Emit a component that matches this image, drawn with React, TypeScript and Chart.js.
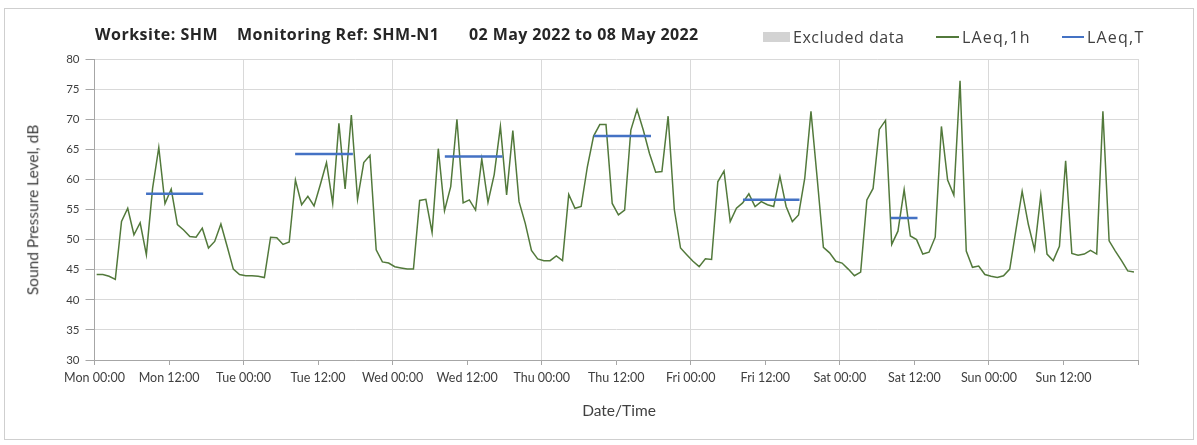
import React, { useEffect, useRef } from 'react';
import { Chart, registerables } from 'chart.js';
Chart.register(...registerables);

// Hourly LAeq,1h values, Mon 00:00 .. Sun 23:00
const laeq1h = [
  44.2, 44.2, 43.9, 43.4, 53.0, 55.2, 50.8, 52.8, 47.5, 58.5, 65.3, 56.0, 58.4, 52.5, 51.6, 50.5, 50.4, 51.9, 48.6, 49.7, 52.6, 48.9, 45.1, 44.2,
  44.0, 44.0, 43.9, 43.7, 50.4, 50.3, 49.2, 49.6, 59.9, 55.8, 57.2, 55.6, 59.1, 62.8, 56.0, 69.3, 58.4, 70.7, 56.7, 62.8, 64.0, 48.3, 46.3, 46.1,
  45.5, 45.3, 45.1, 45.1, 56.5, 56.7, 51.2, 65.1, 54.8, 58.8, 70.0, 56.1, 56.6, 54.9, 63.4, 56.2, 60.8, 68.8, 57.4, 68.1, 56.3, 52.7, 48.2, 46.8,
  46.5, 46.5, 47.3, 46.5, 57.5, 55.2, 55.5, 62.1, 67.2, 69.1, 69.1, 56.0, 54.1, 54.9, 68.2, 71.6, 68.2, 64.3, 61.2, 61.3, 70.5, 55.0, 48.6, 47.5,
  46.4, 45.5, 46.8, 46.7, 59.6, 61.4, 53.0, 55.2, 56.1, 57.6, 55.5, 56.3, 55.8, 55.5, 60.5, 55.5, 53.0, 54.1, 60.2, 71.3, 60.2, 48.7, 47.8, 46.4,
  46.1, 45.1, 44.0, 44.6, 56.6, 58.5, 68.3, 69.8, 49.2, 51.4, 58.3, 50.6, 50.0, 47.6, 47.9, 50.4, 68.8, 59.9, 57.4, 76.4, 48.1, 45.4, 45.6, 44.2,
  43.9, 43.7, 44.0, 45.1, 51.6, 58.0, 52.5, 48.3, 57.4, 47.6, 46.5, 48.9, 63.1, 47.7, 47.4, 47.6, 48.2, 47.6, 71.3, 49.8, 48.1, 46.5, 44.8, 44.6,
];

// LAeq,T periods (hours from Mon 00:00)
const periodStart = [8.3, 32.3, 56.4, 80.4, 104.4, 128.2];
const periodEnd = [17.5, 41.6, 65.7, 89.6, 113.5, 132.5];
const periodValue = [57.6, 64.2, 63.8, 67.2, 56.6, 53.6];

const xTickLabels = [
  'Mon 00:00', 'Mon 12:00', 'Tue 00:00', 'Tue 12:00', 'Wed 00:00', 'Wed 12:00', 'Thu 00:00',
  'Thu 12:00', 'Fri 00:00', 'Fri 12:00', 'Sat 00:00', 'Sat 12:00', 'Sun 00:00', 'Sun 12:00', '',
];

const FONT = 'Lato, "Open Sans", sans-serif';
const FONT2 = '"Open Sans", Lato, sans-serif';

function Txt(props: { x: number; y: number; size: number; bold?: boolean; center?: boolean; rotate?: boolean; color?: string; family?: string; spacing?: number; children: React.ReactNode }) {
  const { x, y, size, bold, center, rotate, color, family, spacing } = props;
  let transform = center ? 'translate(-50%,-50%)' : 'translateY(-50%)';
  if (rotate) transform = 'translate(-50%,-50%) rotate(-90deg)';
  return (
    <div
      style={{
        position: 'absolute', left: x, top: y, transform, fontFamily: family || FONT, fontSize: size,
        fontWeight: bold ? 700 : 400, color: color || '#404040', whiteSpace: 'nowrap', lineHeight: 1,
        letterSpacing: spacing || 0,
      }}
    >
      {props.children}
    </div>
  );
}

export default function App() {
  const ref = useRef<HTMLCanvasElement>(null);
  useEffect(() => {
    const canvas = ref.current;
    if (!canvas) return;
    const lineData = laeq1h.map((v, i) => ({ x: i + 0.35, y: v }));
    const periodData: { x: number; y: number | null }[] = [];
    periodStart.forEach((s, i) => {
      periodData.push({ x: s, y: periodValue[i] }, { x: periodEnd[i], y: periodValue[i] }, { x: periodEnd[i] + 0.01, y: null });
    });
    const chart = new Chart(canvas, {
      type: 'line',
      data: {
        datasets: [
          { label: 'LAeq,T', data: periodData as any, borderColor: '#4472c4', borderWidth: 2.5, pointRadius: 0, spanGaps: false, order: 0 },
          { label: 'LAeq,1h', data: lineData, borderColor: '#52793b', borderWidth: 1.5, pointRadius: 0, tension: 0, order: 1 },
        ],
      },
      options: {
        animation: false,
        responsive: false,
        layout: { padding: { top: 59, right: 59, left: 0, bottom: 0 } },
        plugins: { legend: { display: false }, tooltip: { enabled: false }, title: { display: false } },
        scales: {
          x: {
            type: 'linear',
            min: 0,
            max: 168,
            afterBuildTicks: (s: any) => {
              s.ticks = xTickLabels.map((_, i) => ({ value: i * 12 }));
            },
            afterFit: (s: any) => {
              s.height = 85;
            },
            ticks: {
              autoSkip: false,
              maxRotation: 0,
              padding: 5,
              color: '#404040',
              font: { family: FONT, size: 12.5 },
              callback: (_v: any, i: number) => xTickLabels[i],
            },
            grid: {
              color: (c: any) => (c.tick && c.tick.value % 24 === 0 ? '#d9d9d9' : 'rgba(0,0,0,0)'),
              tickColor: '#a6a6a6',
              tickLength: 5,
            },
            border: { color: '#a6a6a6' },
          },
          y: {
            min: 30,
            max: 80,
            afterFit: (s: any) => {
              s.width = 94.5;
            },
            ticks: { stepSize: 5, padding: 6, color: '#404040', font: { family: FONT, size: 11.5 } },
            grid: { color: '#d9d9d9', tickColor: '#a6a6a6', tickLength: 9 },
            border: { color: '#a6a6a6' },
          },
        },
      },
    });
    return () => chart.destroy();
  }, []);

  return (
    <div style={{ position: 'absolute', left: 0, top: 0, width: 1197, height: 445, background: '#fff' }}>
      <div style={{ position: 'absolute', left: 4, top: 8, width: 1190, height: 432, boxSizing: 'border-box', border: '1px solid #cfcfcf' }} />
      <canvas ref={ref} width={1197} height={445} style={{ position: 'absolute', left: 0, top: 0, display: 'block' }} />
      <Txt x={95} y={34} size={16} bold family={FONT2} spacing={0.5} color="#262626">Worksite: SHM</Txt>
      <Txt x={237} y={34} size={16} bold family={FONT2} spacing={0.5} color="#262626">Monitoring Ref: SHM-N1</Txt>
      <Txt x={469} y={34} size={16} bold family={FONT2} spacing={0.4} color="#262626">02 May 2022 to 08 May 2022</Txt>
      <div style={{ position: 'absolute', left: 763, top: 32, width: 27, height: 10, background: '#d3d3d3' }} />
      <Txt x={793} y={37} size={16} family={FONT2} spacing={0.5}>Excluded data</Txt>
      <div style={{ position: 'absolute', left: 936, top: 36, width: 23, height: 2, background: '#52793b' }} />
      <Txt x={962} y={37} size={16} family={FONT2} spacing={1.2}>LAeq,1h</Txt>
      <div style={{ position: 'absolute', left: 1062, top: 35.5, width: 22, height: 2.5, background: '#4472c4' }} />
      <Txt x={1087} y={37} size={16} family={FONT2} spacing={1.2}>LAeq,T</Txt>
      <Txt x={33} y={210} size={15.5} rotate>Sound Pressure Level, dB</Txt>
      <Txt x={619} y={411} size={15.5} center>Date/Time</Txt>
    </div>
  );
}
